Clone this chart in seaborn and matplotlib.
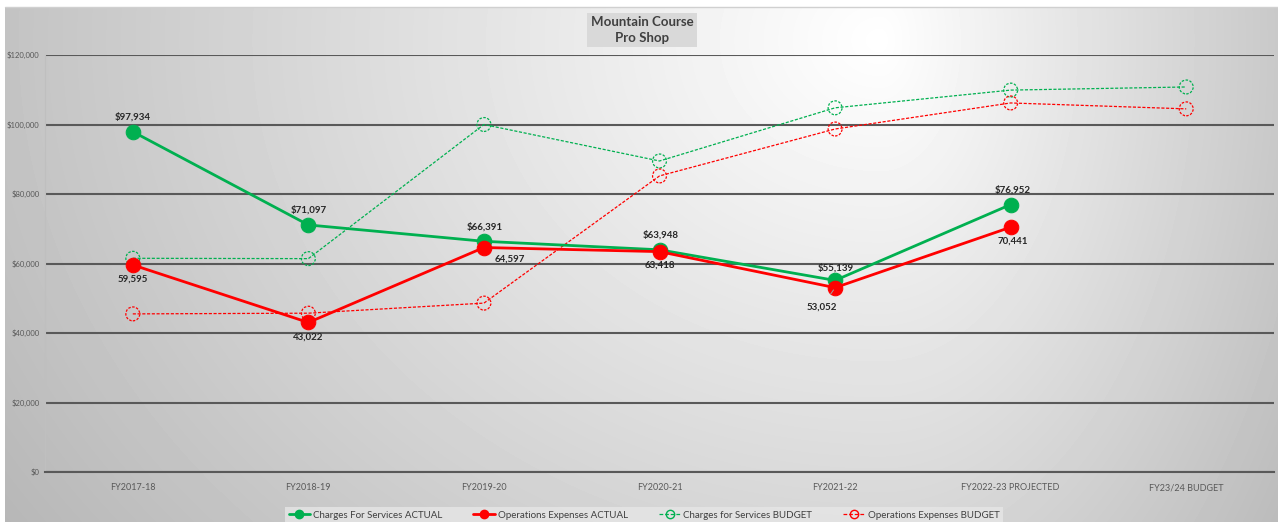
"""Mountain Course Pro Shop: actual vs budget line chart."""

import matplotlib
matplotlib.use("Agg")
import matplotlib.pyplot as plt
from matplotlib.lines import Line2D
import numpy as np
import pandas as pd
import seaborn as sns

years = ["FY2017-18", "FY2018-19", "FY2019-20", "FY2020-21", "FY2021-22",
         "FY2022-23 PROJECTED", "FY23/24 BUDGET"]
charges_actual = [97934, 71097, 66391, 63948, 55139, 76952]
ops_actual = [59595, 43022, 64597, 63418, 53052, 70441]
charges_budget = [61500, 61400, 100000, 89500, 104800, 109900, 110800]
ops_budget = [45500, 45700, 48600, 85200, 98700, 106200, 104500]

GREEN = "#00B050"
RED = "#FF0000"
TXT = "#404040"

sns.set_theme(style="white")
plt.rcParams["font.family"] = ["Lato", "DejaVu Sans"]

fig = plt.figure(figsize=(12.78, 5.22), dpi=100)

# gradient background (lighter towards upper right, grey at the edges)
W, H = 1278, 522
bg = fig.add_axes([5 / W, 0, 1 - 5 / W, 1 - 7 / H], zorder=-10)
xx, yy = np.meshgrid(np.arange(5, W), np.arange(7, H))
cx, cy = 880, 40
dx = np.where(xx < cx, (xx - cx) / 860, (xx - cx) / 430)
dy = (yy - cy) / 700
val = 1 - 0.23 * np.clip(np.sqrt(dx ** 2 + dy ** 2), 0, 1.25)
bg.imshow(val, cmap="gray", vmin=0, vmax=1, aspect="auto", extent=[0, 1, 0, 1])
bg.set_axis_off()
fig.add_artist(Line2D([5 / W, 1], [1 - 7 / H, 1 - 7 / H], transform=fig.transFigure,
                      color="#d0d0d0", lw=1))

ax = fig.add_axes([45 / W, 1 - 472 / H, (1274 - 45) / W, (472 - 55) / H])
ax.set_facecolor("none")

df_ca = pd.DataFrame({"year": years[:len(charges_actual)], "value": charges_actual})
df_oa = pd.DataFrame({"year": years[:len(ops_actual)], "value": ops_actual})
df_cb = pd.DataFrame({"year": years, "value": charges_budget})
df_ob = pd.DataFrame({"year": years, "value": ops_budget})

# budget lines (dashed, hollow dashed circles)
for df, col in [(df_cb, GREEN), (df_ob, RED)]:
    sns.lineplot(data=df, x="year", y="value", ax=ax, color=col, lw=0.9,
                 linestyle=(0, (2.5, 1.3)), sort=False, zorder=3)
    ax.scatter(df["year"], df["value"], s=100, facecolors="none", edgecolors=col,
               linewidths=0.9, linestyle=(0, (2, 1.2)), zorder=3)

# actual lines
for df, col in [(df_ca, GREEN), (df_oa, RED)]:
    sns.lineplot(data=df, x="year", y="value", ax=ax, color=col, lw=2,
                 marker="o", markersize=10.5, markeredgecolor=col, sort=False, zorder=4)

# data labels
ca_off = [(0, 15), (0, 15), (1, 14), (1, 15), (1, 12), (2, 15)]
oa_off = [(0, -14), (0, -15), (26, -12), (0, -14), (-13, -19), (2, -14)]
for i, v in enumerate(charges_actual):
    ax.annotate(f"${v:,}", (years[i], v), xytext=ca_off[i], textcoords="offset pixels",
                ha="center", va="center", fontsize=7, fontweight="bold", color="#262626",
                zorder=6)
for i, v in enumerate(ops_actual):
    arrow = dict(arrowstyle="-", color="#a0a0a0", lw=0.7, shrinkA=4, shrinkB=2) if i == 4 else None
    ax.annotate(f"{v:,}", (years[i], v), xytext=oa_off[i], textcoords="offset pixels",
                ha="center", va="center", fontsize=7, fontweight="bold", color="#262626",
                arrowprops=arrow, zorder=6)

ax.set_xlim(-0.5, len(years) - 0.5)
ax.set_ylim(0, 120000)
ax.set_yticks(np.arange(0, 120001, 20000))
ax.yaxis.set_major_formatter(matplotlib.ticker.FuncFormatter(lambda v, p: f"${v:,.0f}"))
ax.tick_params(axis="y", labelsize=5.5, labelcolor="#595959", length=0, pad=4)
ax.tick_params(axis="x", labelsize=6.5, labelcolor="#595959", length=0, pad=8)
ax.grid(axis="y", color="#595959", lw=1.5)
ax.set_axisbelow(True)
ax.set_xlabel("")
ax.set_ylabel("")
for s in ["top", "right"]:
    ax.spines[s].set_visible(False)
ax.spines["left"].set_color("#bfbfbf")
ax.spines["left"].set_linewidth(0.8)
ax.spines["bottom"].set_color("#595959")
ax.spines["bottom"].set_linewidth(1.5)

fig.text(642 / W, 1 - 30 / H, "Mountain Course\nPro Shop", ha="center", va="center",
         fontsize=9.5, fontweight="bold", color=TXT, linespacing=1.3,
         bbox=dict(boxstyle="square,pad=0.3", facecolor="#d9d9d9", edgecolor="none"))

handles = [
    Line2D([], [], color=GREEN, lw=2, marker="o", markersize=6),
    Line2D([], [], color=RED, lw=2, marker="o", markersize=6),
    Line2D([], [], color=GREEN, lw=0.9, ls=(0, (3, 1.5)), marker="o", markersize=6,
           markerfacecolor="none"),
    Line2D([], [], color=RED, lw=0.9, ls=(0, (3, 1.5)), marker="o", markersize=6,
           markerfacecolor="none"),
]
labels = ["Charges For Services ACTUAL", "Operations Expenses ACTUAL",
          "Charges for Services BUDGET", "Operations Expenses BUDGET"]
leg = fig.legend(handles, labels, loc="lower center", bbox_to_anchor=(644 / W, -0.012),
                 ncol=4, frameon=True, fontsize=7, handlelength=2.2, handletextpad=0.3,
                 columnspacing=3.2, borderpad=0.4, fancybox=False)
leg.get_frame().set_facecolor("#e6e6e6")
leg.get_frame().set_edgecolor("none")
for t in leg.get_texts():
    t.set_color(TXT)

fig.savefig("out.png", dpi=100)
